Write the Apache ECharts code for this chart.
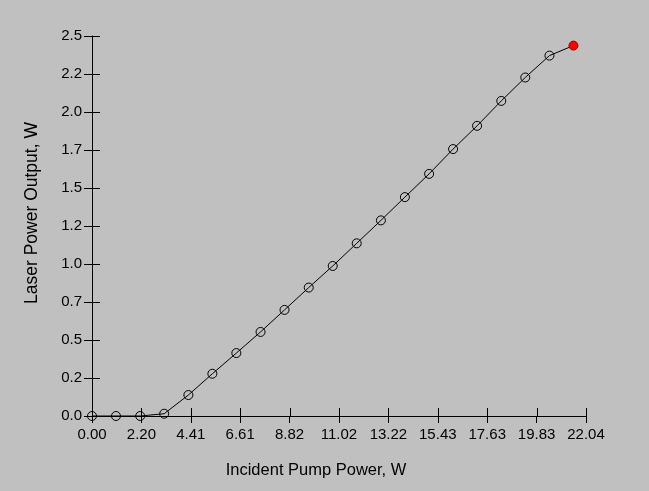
<!DOCTYPE html>
<html>
<head>
<meta charset="utf-8">
<script src="https://cdn.jsdelivr.net/npm/echarts@6/dist/echarts.min.js"></script>
<style>
html,body{margin:0;padding:0;background:#c0c0c0;}
#chart{width:649px;height:491px;}
</style>
</head>
<body>
<div id="chart"></div>
<script>
var pumpPower = [0, 1.07, 2.15, 3.22, 4.30, 5.37, 6.44, 7.52, 8.59, 9.67, 10.74, 11.81, 12.89, 13.96, 15.04, 16.11, 17.18, 18.26, 19.33, 20.41, 21.48];
var laserPower = [0, 0, 0, 0.015, 0.138, 0.278, 0.414, 0.553, 0.698, 0.845, 0.987, 1.136, 1.287, 1.44, 1.593, 1.756, 1.909, 2.073, 2.227, 2.371, 2.437];
var xTickLabels = ['0.00', '2.20', '4.41', '6.61', '8.82', '11.02', '13.22', '15.43', '17.63', '19.83', '22.04'];
var yTickLabels = ['0.0', '0.2', '0.5', '0.7', '1.0', '1.2', '1.5', '1.7', '2.0', '2.2', '2.5'];
var xTitle = 'Incident Pump Power, W';
var yTitle = 'Laser Power Output, W';

var X_MAX = 22.04, X_INT = 2.204, Y_MAX = 2.5, Y_INT = 0.25;
var FONT = '"Liberation Sans", Arial, sans-serif';

var seriesData = pumpPower.map(function (x, i) {
  var d = { value: [x, laserPower[i]] };
  if (i === pumpPower.length - 1) {
    d.itemStyle = { color: '#ff0000', borderColor: '#a00000', borderWidth: 1 };
  }
  return d;
});

var xTickValues = xTickLabels.map(function (_, i) { return i * X_INT; });
var yTickValues = yTickLabels.map(function (_, i) { return i * Y_INT; });

function xLab(v) { var k = Math.round(v / X_INT); return xTickLabels[k] !== undefined ? xTickLabels[k] : ''; }
function yLab(v) { var k = Math.round(v / Y_INT); return yTickLabels[k] !== undefined ? yTickLabels[k] : ''; }

var chart = echarts.init(document.getElementById('chart'), null, { renderer: 'canvas' });
chart.setOption({
  backgroundColor: '#c0c0c0',
  animation: false,
  grid: { left: 92, top: 36, right: 63, bottom: 75, containLabel: false, outerBoundsMode: 'none' },
  title: [
    { text: xTitle, left: 311, top: 457, textAlign: 'center',
      textStyle: { fontFamily: FONT, fontSize: 16.5, fontWeight: 'normal', color: '#000' } }
  ],
  graphic: [
    { id: 'ytitle', type: 'text', x: 23, y: 213, rotation: Math.PI / 2,
      style: { text: yTitle, font: '17.5px ' + FONT, fill: '#000', align: 'center', verticalAlign: 'top' } }
  ],
  xAxis: {
    type: 'value', position: 'bottom', min: 0, max: X_MAX, interval: X_INT,
    axisLine: { show: true, onZero: false, lineStyle: { color: '#000', width: 1 } },
    axisTick: { show: true, length: 7, lineStyle: { color: '#000', width: 1 } },
    axisLabel: { show: true, formatter: xLab, color: '#000', fontFamily: FONT, fontSize: 15, margin: 11 },
    splitLine: { show: false }
  },
  yAxis: {
    type: 'value', position: 'left', min: 0, max: Y_MAX, interval: Y_INT,
    axisLine: { show: true, onZero: false, lineStyle: { color: '#000', width: 1 } },
    axisTick: { show: true, length: 8, lineStyle: { color: '#000', width: 1 } },
    axisLabel: { show: true, formatter: yLab, color: '#000', fontFamily: FONT, fontSize: 15, margin: 10 },
    splitLine: { show: false }
  },
  series: [
    {
      type: 'line',
      name: 'Laser Power Output',
      data: seriesData,
      symbol: 'circle',
      symbolSize: 9,
      showAllSymbol: true,
      clip: true,
      z: 3,
      lineStyle: { color: '#000', width: 1 },
      itemStyle: { color: 'rgba(0,0,0,0)', borderColor: '#000', borderWidth: 1 },
      emphasis: { disabled: true }
    }
  ]
});

// inner halves of the crossing tick marks, positioned through the axis scales
var tickGraphics = [];
xTickValues.forEach(function (v, i) {
  var p = chart.convertToPixel({ gridIndex: 0 }, [v, 0]);
  var x = Math.round(p[0]) + 0.5;
  tickGraphics.push({ id: 'xt' + i, type: 'line', z: 10, silent: true,
    shape: { x1: x, y1: p[1], x2: x, y2: p[1] - 8 },
    style: { stroke: '#000', lineWidth: 1 } });
});
yTickValues.forEach(function (v, i) {
  var p = chart.convertToPixel({ gridIndex: 0 }, [0, v]);
  var y = Math.round(p[1]) + 0.5;
  tickGraphics.push({ id: 'yt' + i, type: 'line', z: 10, silent: true,
    shape: { x1: p[0], y1: y, x2: p[0] + 8, y2: y },
    style: { stroke: '#000', lineWidth: 1 } });
});
chart.setOption({ graphic: tickGraphics });
</script>
</body>
</html>
